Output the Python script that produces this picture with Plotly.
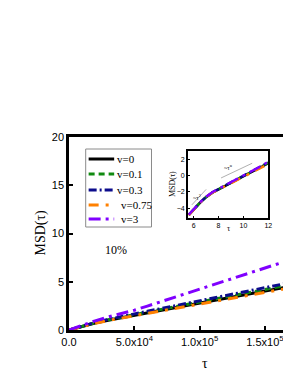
import plotly.graph_objects as go

# ---- main panel data (tau vs MSD) ----
tau = [0, 1e4, 2e4, 3e4, 4e4, 5e4, 6e4, 7e4, 8e4, 9e4, 1e5, 1.1e5, 1.2e5, 1.3e5, 1.4e5, 1.5e5, 1.6e5, 1.7e5]
msd_v0 = [0, 0.38, 0.72, 1.01, 1.28, 1.53, 1.78, 2.03, 2.28, 2.53, 2.78, 3.03, 3.28, 3.53, 3.78, 4.03, 4.28, 4.53]
msd_v01 = [0, 0.40, 0.75, 1.06, 1.34, 1.60, 1.86, 2.12, 2.38, 2.64, 2.90, 3.16, 3.42, 3.68, 3.94, 4.20, 4.46, 4.72]
msd_v03 = [0, 0.42, 0.78, 1.10, 1.40, 1.67, 1.94, 2.21, 2.48, 2.76, 3.03, 3.30, 3.57, 3.85, 4.12, 4.39, 4.66, 4.93]
msd_v075 = [0, 0.37, 0.70, 0.98, 1.24, 1.48, 1.72, 1.96, 2.20, 2.45, 2.69, 2.93, 3.17, 3.42, 3.66, 3.90, 4.14, 4.38]
msd_v3 = [0, 0.50, 0.95, 1.35, 1.70, 2.05, 2.48, 2.92, 3.36, 3.80, 4.24, 4.68, 5.12, 5.56, 6.00, 6.43, 6.87, 7.30]

# ---- inset data (log tau vs log MSD) ----
ln_tau = [5.6, 6.0, 6.5, 7.0, 7.5, 8.0, 8.5, 9.0, 9.5, 10.0, 10.5, 11.0, 11.5, 12.0]
ln_v0 = [-4.85, -4.15, -3.35, -2.65, -2.10, -1.70, -1.30, -0.90, -0.50, -0.12, 0.27, 0.66, 1.05, 1.50]
ln_v01 = [-4.83, -4.13, -3.33, -2.63, -2.08, -1.68, -1.28, -0.88, -0.48, -0.09, 0.30, 0.70, 1.10, 1.55]
ln_v03 = [-4.82, -4.12, -3.32, -2.62, -2.07, -1.66, -1.26, -0.86, -0.46, -0.07, 0.33, 0.73, 1.14, 1.60]
ln_v075 = [-4.86, -4.16, -3.36, -2.66, -2.11, -1.72, -1.32, -0.93, -0.54, -0.16, 0.22, 0.60, 0.98, 1.40]
ln_v3 = [-4.80, -4.10, -3.30, -2.60, -2.05, -1.62, -1.22, -0.82, -0.42, -0.02, 0.38, 0.80, 1.22, 1.70]

# guide lines in inset
guide2_x = [5.85, 7.0]
guide2_y = [-3.6, -1.7]
guide1_x = [8.2, 10.7]
guide1_y = [-0.3, 1.5]

labels = ["v=0", "v=0.1", "v=0.3", "v=0.75", "v=3"]
colors = ["#000000", "#108a10", "#0c0c8c", "#ff8000", "#8000ff"]
dashes = ["solid", "6px,4px", "8px,3px,2px,3px", "10px,7px,3px,7px", "12px,5px,3px,5px"]
main_series = [msd_v0, msd_v01, msd_v03, msd_v075, msd_v3]
inset_series = [ln_v0, ln_v01, ln_v03, ln_v075, ln_v3]

xtick_vals = [0, 5e4, 1e5, 1.5e5]
xtick_text = ["0.0", "5.0x10<sup>4</sup>", "1.0x10<sup>5</sup>", "1.5x10<sup>5</sup>"]
ytick_vals = [0, 5, 10, 15, 20]

SERIF = "Liberation Serif, Times New Roman, serif"
SANS = "Liberation Sans, Arial, sans-serif"

fig = go.Figure()
for lab, col, dsh, ys in zip(labels, colors, dashes, main_series):
    fig.add_trace(go.Scatter(x=tau, y=ys, mode="lines", name=lab, showlegend=False,
                             line=dict(color=col, width=3, dash=dsh),
                             xaxis="x", yaxis="y"))
# inset
fig.add_trace(go.Scatter(x=guide2_x, y=guide2_y, mode="lines", showlegend=False,
                         line=dict(color="#b0b0b0", width=1), xaxis="x2", yaxis="y2"))
fig.add_trace(go.Scatter(x=guide1_x, y=guide1_y, mode="lines", showlegend=False,
                         line=dict(color="#b0b0b0", width=1), xaxis="x2", yaxis="y2"))
for lab, col, dsh, ys in zip(labels, colors, dashes, inset_series):
    fig.add_trace(go.Scatter(x=ln_tau, y=ys, mode="lines", name=lab, showlegend=False,
                             line=dict(color=col, width=2.5, dash=dsh),
                             xaxis="x2", yaxis="y2"))

# page has an 8px body margin; figure coordinates = page - 8
OFF = 8
W, H = 291 - OFF, 376 - OFF
L, R, T = 69 - OFF, 0, 137 - OFF
BOT = 330 - OFF
B = H - BOT
pw = W - L - R
ph = BOT - T
xmax = pw / 66.5 * 5e4


def px(p):  # page x pixel -> paper x
    return (p - OFF - L) / pw


def py(p):  # page y pixel -> paper y
    return (BOT - (p - OFF)) / ph


shapes = []
annotations = []
# manual legend
shapes.append(dict(type="rect", xref="paper", yref="paper", x0=px(86), x1=px(153),
                   y0=py(227), y1=py(149), line=dict(color="#8a8a8a", width=1),
                   fillcolor="rgba(0,0,0,0)", layer="above"))
leg_y = [159, 174, 190, 205, 219]
leg_tx = [116, 116, 116, 120, 120]
for lab, col, dsh, yy, tx in zip(labels, colors, dashes, leg_y, leg_tx):
    shapes.append(dict(type="line", xref="paper", yref="paper", x0=px(89), x1=px(115),
                       y0=py(yy), y1=py(yy), line=dict(color=col, width=3, dash=dsh)))
    annotations.append(dict(text=lab, xref="paper", yref="paper", x=px(tx), y=py(yy),
                            showarrow=False, xanchor="left", yanchor="middle",
                            font=dict(family=SERIF, size=11, color="black")))

annotations += [
    dict(text="MSD(τ)", xref="paper", yref="paper", x=px(40), y=py(233),
         textangle=-90, showarrow=False, xanchor="center", yanchor="middle",
         font=dict(family=SERIF, size=14, color="black")),
    dict(text="τ", xref="paper", yref="paper", x=px(207), y=py(363),
         showarrow=False, xanchor="center", yanchor="middle",
         font=dict(family=SERIF, size=14, color="black")),
    dict(text="10%", xref="x", yref="y", x=(117 - 69) / 66.5 * 5e4, y=8.3,
         showarrow=False, xanchor="center", yanchor="middle",
         font=dict(family=SERIF, size=12, color="black")),
    dict(text="MSD(τ)", xref="paper", yref="paper", x=px(174), y=py(184),
         textangle=-90, showarrow=False, xanchor="center", yanchor="middle",
         font=dict(family=SERIF, size=8, color="black")),
    dict(text="τ", xref="paper", yref="paper", x=px(232), y=py(228),
         showarrow=False, xanchor="center", yanchor="middle",
         font=dict(family=SERIF, size=8, color="black")),
    dict(text="~τ<sup>2</sup>", xref="x2", yref="y2", x=6.25, y=-2.6,
         showarrow=False, xanchor="center", yanchor="middle",
         font=dict(family=SERIF, size=6, color="black")),
    dict(text="~τ<sup>α</sup>", xref="x2", yref="y2", x=8.8, y=1.1,
         showarrow=False, xanchor="center", yanchor="middle",
         font=dict(family=SERIF, size=6, color="black")),
]

fig.update_layout(
    width=W, height=H,
    margin=dict(l=L, r=R, t=T, b=B, pad=0),
    paper_bgcolor="white", plot_bgcolor="white",
    showlegend=False,
    xaxis=dict(domain=[0, 1], range=[0, xmax], tickvals=xtick_vals, ticktext=xtick_text,
               ticks="inside", ticklen=4, tickwidth=2, tickcolor="black",
               showline=True, linewidth=2.5, linecolor="black", mirror=True,
               showgrid=False, zeroline=False,
               tickfont=dict(family=SANS, size=11, color="black")),
    yaxis=dict(domain=[0, 1], range=[0, 20], tickvals=ytick_vals,
               ticks="inside", ticklen=4, tickwidth=2, tickcolor="black",
               showline=True, linewidth=2.5, linecolor="black",
               showgrid=False, zeroline=False,
               tickfont=dict(family=SANS, size=11, color="black")),
    xaxis2=dict(domain=[px(190), px(272)], anchor="y2", range=[5.53, 12],
                tickvals=[6, 8, 10, 12], ticks="inside", ticklen=2, tickwidth=1,
                tickcolor="black", showline=True, linewidth=1.5, linecolor="black",
                mirror=True, showgrid=False, zeroline=False,
                tickfont=dict(family=SANS, size=7, color="black")),
    yaxis2=dict(domain=[py(218), py(151)], anchor="x2", range=[-5.2, 3],
                tickvals=[-4, -2, 0, 2], ticks="inside", ticklen=2, tickwidth=1,
                tickcolor="black", showline=True, linewidth=1.5, linecolor="black",
                mirror=True, showgrid=False, zeroline=False,
                tickfont=dict(family=SANS, size=7, color="black")),
    shapes=shapes,
    annotations=annotations,
)

fig.write_html("out.html")
